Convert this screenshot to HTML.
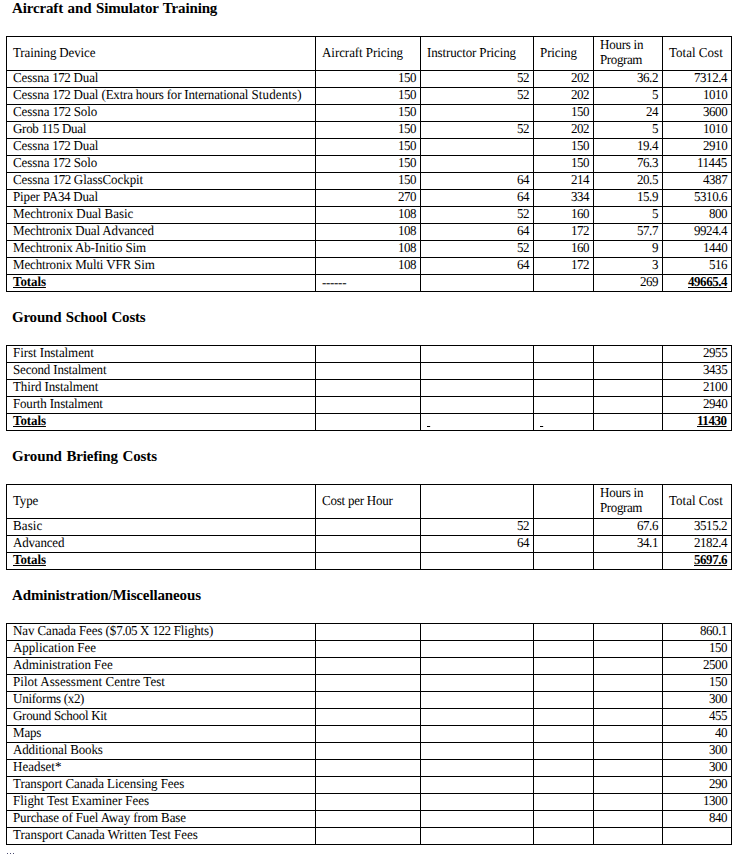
<!DOCTYPE html>
<html><head><meta charset="utf-8"><title>Training Costs</title>
<style>
html,body{margin:0;padding:0;background:#fff;}
body{width:748px;height:857px;position:relative;overflow:hidden;font-family:"Liberation Serif",serif;font-size:13px;color:#000;}
h3{position:absolute;left:12px;margin:0;font-size:15px;font-weight:bold;line-height:18px;white-space:nowrap;word-spacing:1px;}
table{position:absolute;left:6px;width:726px;border-collapse:collapse;table-layout:fixed;}
td{border:1px solid #000;padding:0 3px 0 6px;height:16px;line-height:13px;vertical-align:top;white-space:nowrap;overflow:hidden;letter-spacing:-0.18px;}
td.r{text-align:right;letter-spacing:-0.45px;padding-right:4px;}
td b{letter-spacing:-0.1px;}
td.r b{letter-spacing:-0.45px;}
.t{display:inline-block;transform:matrix(1,0,0.0005,1.045,0,0);transform-origin:0 11px;}
tr.h td{height:25px;padding-top:8px;line-height:15px;vertical-align:top;white-space:nowrap;}
tr.h td.two{height:33px;padding-top:0;}
.dots{position:absolute;left:7px;top:853px;width:1px;height:1px;background:#4a4a70;box-shadow:3px 0 0 #4a4a70,6px 0 0 #4a4a70;}
</style></head><body>
<h3 style="top:-1px;letter-spacing:-0.149px">Aircraft and Simulator Training</h3>
<table style="top:36px"><colgroup><col style="width:309px"><col style="width:105px"><col style="width:113px"><col style="width:60px"><col style="width:69px"><col style="width:69px"></colgroup>
<tr class="h"><td class="l"><span class="t" style="letter-spacing:-0.133px">Training Device</span></td><td class="l"><span class="t" style="letter-spacing:-0.058px">Aircraft Pricing</span></td><td class="l"><span class="t" style="letter-spacing:-0.133px">Instructor Pricing</span></td><td class="l"><span class="t" style="letter-spacing:-0.100px">Pricing</span></td><td class="l two"><span class="t" style="letter-spacing:-0.241px">Hours in</span><br><span class="t" style="letter-spacing:-0.390px">Program</span></td><td class="l"><span class="t" style="letter-spacing:0.016px">Total Cost</span></td></tr>
<tr><td class="l"><span class="t" style="letter-spacing:-0.105px">Cessna <span style="letter-spacing:-0.5px">172</span> Dual</span></td><td class="r"><span class="t">150</span></td><td class="r"><span class="t">52</span></td><td class="r"><span class="t">202</span></td><td class="r"><span class="t">36.2</span></td><td class="r"><span class="t">7312.4</span></td></tr>
<tr><td class="l"><span class="t"><span style="letter-spacing:-0.105px">Cessna <span style="letter-spacing:-0.5px">172</span> Dual </span><span style="letter-spacing:-0.202px">(Extra hours for International</span><span style="letter-spacing:0.123px"> Students)</span></span></td><td class="r"><span class="t">150</span></td><td class="r"><span class="t">52</span></td><td class="r"><span class="t">202</span></td><td class="r"><span class="t">5</span></td><td class="r"><span class="t">1010</span></td></tr>
<tr><td class="l"><span class="t" style="letter-spacing:-0.077px">Cessna <span style="letter-spacing:-0.5px">172</span> Solo</span></td><td class="r"><span class="t">150</span></td><td class="r"></td><td class="r"><span class="t">150</span></td><td class="r"><span class="t">24</span></td><td class="r"><span class="t">3600</span></td></tr>
<tr><td class="l"><span class="t" style="letter-spacing:-0.288px">Grob <span style="letter-spacing:-0.5px">115</span> Dual</span></td><td class="r"><span class="t">150</span></td><td class="r"><span class="t">52</span></td><td class="r"><span class="t">202</span></td><td class="r"><span class="t">5</span></td><td class="r"><span class="t">1010</span></td></tr>
<tr><td class="l"><span class="t" style="letter-spacing:-0.105px">Cessna <span style="letter-spacing:-0.5px">172</span> Dual</span></td><td class="r"><span class="t">150</span></td><td class="r"></td><td class="r"><span class="t">150</span></td><td class="r"><span class="t">19.4</span></td><td class="r"><span class="t">2910</span></td></tr>
<tr><td class="l"><span class="t" style="letter-spacing:-0.077px">Cessna <span style="letter-spacing:-0.5px">172</span> Solo</span></td><td class="r"><span class="t">150</span></td><td class="r"></td><td class="r"><span class="t">150</span></td><td class="r"><span class="t">76.3</span></td><td class="r"><span class="t">11445</span></td></tr>
<tr><td class="l"><span class="t" style="letter-spacing:-0.061px">Cessna <span style="letter-spacing:-0.5px">172</span> GlassCockpit</span></td><td class="r"><span class="t">150</span></td><td class="r"><span class="t">64</span></td><td class="r"><span class="t">214</span></td><td class="r"><span class="t">20.5</span></td><td class="r"><span class="t">4387</span></td></tr>
<tr><td class="l"><span class="t" style="letter-spacing:-0.133px">Piper PA<span style="letter-spacing:-0.5px">34</span> Dual</span></td><td class="r"><span class="t">270</span></td><td class="r"><span class="t">64</span></td><td class="r"><span class="t">334</span></td><td class="r"><span class="t">15.9</span></td><td class="r"><span class="t">5310.6</span></td></tr>
<tr><td class="l"><span class="t" style="letter-spacing:-0.053px">Mechtronix Dual Basic</span></td><td class="r"><span class="t">108</span></td><td class="r"><span class="t">52</span></td><td class="r"><span class="t">160</span></td><td class="r"><span class="t">5</span></td><td class="r"><span class="t">800</span></td></tr>
<tr><td class="l"><span class="t" style="letter-spacing:-0.151px">Mechtronix Dual Advanced</span></td><td class="r"><span class="t">108</span></td><td class="r"><span class="t">64</span></td><td class="r"><span class="t">172</span></td><td class="r"><span class="t">57.7</span></td><td class="r"><span class="t">9924.4</span></td></tr>
<tr><td class="l"><span class="t" style="letter-spacing:-0.113px">Mechtronix Ab-Initio Sim</span></td><td class="r"><span class="t">108</span></td><td class="r"><span class="t">52</span></td><td class="r"><span class="t">160</span></td><td class="r"><span class="t">9</span></td><td class="r"><span class="t">1440</span></td></tr>
<tr><td class="l"><span class="t" style="letter-spacing:-0.154px">Mechtronix Multi VFR Sim</span></td><td class="r"><span class="t">108</span></td><td class="r"><span class="t">64</span></td><td class="r"><span class="t">172</span></td><td class="r"><span class="t">3</span></td><td class="r"><span class="t">516</span></td></tr>
<tr><td class="l"><span class="t"><b><u>Totals</u></b></span></td><td class="l"><span class="t"><span style="position:relative;top:0.5px;letter-spacing:-0.3px">------</span></span></td><td class="r"></td><td class="r"></td><td class="r"><span class="t">269</span></td><td class="r"><span class="t"><b><u>49665.4</u></b></span></td></tr>
</table>
<h3 style="top:308px;letter-spacing:-0.220px">Ground School Costs</h3>
<table style="top:345px"><colgroup><col style="width:309px"><col style="width:105px"><col style="width:113px"><col style="width:60px"><col style="width:69px"><col style="width:69px"></colgroup>
<tr><td class="l"><span class="t" style="letter-spacing:-0.071px">First Instalment</span></td><td class="r"></td><td class="r"></td><td class="r"></td><td class="r"></td><td class="r"><span class="t">2955</span></td></tr>
<tr><td class="l"><span class="t" style="letter-spacing:-0.180px">Second Instalment</span></td><td class="r"></td><td class="r"></td><td class="r"></td><td class="r"></td><td class="r"><span class="t">3435</span></td></tr>
<tr><td class="l"><span class="t" style="letter-spacing:-0.114px">Third Instalment</span></td><td class="r"></td><td class="r"></td><td class="r"></td><td class="r"></td><td class="r"><span class="t">2100</span></td></tr>
<tr><td class="l"><span class="t" style="letter-spacing:-0.180px">Fourth Instalment</span></td><td class="r"></td><td class="r"></td><td class="r"></td><td class="r"></td><td class="r"><span class="t">2940</span></td></tr>
<tr><td class="l"><span class="t"><b><u>Totals</u></b></span></td><td class="r"></td><td class="l"><span class="t"><b><u>&nbsp;</u></b></span></td><td class="l"><span class="t"><b><u>&nbsp;</u></b></span></td><td class="r"></td><td class="r"><span class="t"><b><u>11430</u></b></span></td></tr>
</table>
<h3 style="top:447px;letter-spacing:-0.130px">Ground Briefing Costs</h3>
<table style="top:484px"><colgroup><col style="width:309px"><col style="width:105px"><col style="width:113px"><col style="width:60px"><col style="width:69px"><col style="width:69px"></colgroup>
<tr class="h"><td class="l"><span class="t" style="letter-spacing:-0.180px">Type</span></td><td class="l"><span class="t" style="letter-spacing:-0.234px">Cost per Hour</span></td><td class="l"></td><td class="l"></td><td class="l two"><span class="t" style="letter-spacing:-0.241px">Hours in</span><br><span class="t" style="letter-spacing:-0.390px">Program</span></td><td class="l"><span class="t" style="letter-spacing:0.016px">Total Cost</span></td></tr>
<tr><td class="l"><span class="t" style="letter-spacing:0.100px">Basic</span></td><td class="r"></td><td class="r"><span class="t">52</span></td><td class="r"></td><td class="r"><span class="t">67.6</span></td><td class="r"><span class="t">3515.2</span></td></tr>
<tr><td class="l"><span class="t" style="letter-spacing:-0.180px">Advanced</span></td><td class="r"></td><td class="r"><span class="t">64</span></td><td class="r"></td><td class="r"><span class="t">34.1</span></td><td class="r"><span class="t">2182.4</span></td></tr>
<tr><td class="l"><span class="t"><b><u>Totals</u></b></span></td><td class="r"></td><td class="r"></td><td class="r"></td><td class="r"></td><td class="r"><span class="t"><b><u>5697.6</u></b></span></td></tr>
</table>
<h3 style="top:586px;letter-spacing:-0.130px">Administration/Miscellaneous</h3>
<table style="top:623px"><colgroup><col style="width:309px"><col style="width:105px"><col style="width:113px"><col style="width:60px"><col style="width:69px"><col style="width:69px"></colgroup>
<tr><td class="l"><span class="t" style="letter-spacing:-0.104px">Nav Canada Fees ($<span style="letter-spacing:-0.5px">7.05</span> X <span style="letter-spacing:-0.5px">122</span> Flights)</span></td><td class="r"></td><td class="r"></td><td class="r"></td><td class="r"></td><td class="r"><span class="t">860.1</span></td></tr>
<tr><td class="l"><span class="t" style="letter-spacing:-0.021px">Application Fee</span></td><td class="r"></td><td class="r"></td><td class="r"></td><td class="r"></td><td class="r"><span class="t">150</span></td></tr>
<tr><td class="l"><span class="t" style="letter-spacing:-0.063px">Administration Fee</span></td><td class="r"></td><td class="r"></td><td class="r"></td><td class="r"></td><td class="r"><span class="t">2500</span></td></tr>
<tr><td class="l"><span class="t" style="letter-spacing:0.040px">Pilot Assessment Centre Test</span></td><td class="r"></td><td class="r"></td><td class="r"></td><td class="r"></td><td class="r"><span class="t">150</span></td></tr>
<tr><td class="l"><span class="t" style="letter-spacing:-0.255px">Uniforms (x<span style="letter-spacing:-0.5px">2</span>)</span></td><td class="r"></td><td class="r"></td><td class="r"></td><td class="r"></td><td class="r"><span class="t">300</span></td></tr>
<tr><td class="l"><span class="t" style="letter-spacing:-0.295px">Ground School Kit</span></td><td class="r"></td><td class="r"></td><td class="r"></td><td class="r"></td><td class="r"><span class="t">455</span></td></tr>
<tr><td class="l"><span class="t" style="letter-spacing:-0.180px">Maps</span></td><td class="r"></td><td class="r"></td><td class="r"></td><td class="r"></td><td class="r"><span class="t">40</span></td></tr>
<tr><td class="l"><span class="t" style="letter-spacing:-0.149px">Additional Books</span></td><td class="r"></td><td class="r"></td><td class="r"></td><td class="r"></td><td class="r"><span class="t">300</span></td></tr>
<tr><td class="l"><span class="t" style="letter-spacing:0.013px">Headset*</span></td><td class="r"></td><td class="r"></td><td class="r"></td><td class="r"></td><td class="r"><span class="t">300</span></td></tr>
<tr><td class="l"><span class="t" style="letter-spacing:-0.090px">Transport Canada Licensing Fees</span></td><td class="r"></td><td class="r"></td><td class="r"></td><td class="r"></td><td class="r"><span class="t">290</span></td></tr>
<tr><td class="l"><span class="t" style="letter-spacing:-0.020px">Flight Test Examiner Fees</span></td><td class="r"></td><td class="r"></td><td class="r"></td><td class="r"></td><td class="r"><span class="t">1300</span></td></tr>
<tr><td class="l"><span class="t" style="letter-spacing:-0.126px">Purchase of Fuel Away from Base</span></td><td class="r"></td><td class="r"></td><td class="r"></td><td class="r"></td><td class="r"><span class="t">840</span></td></tr>
<tr><td class="l"><span class="t" style="letter-spacing:-0.040px">Transport Canada Written Test Fees</span></td><td class="r"></td><td class="r"></td><td class="r"></td><td class="r"></td><td class="r"></td></tr>
</table>
<div class="dots"></div>
</body></html>
